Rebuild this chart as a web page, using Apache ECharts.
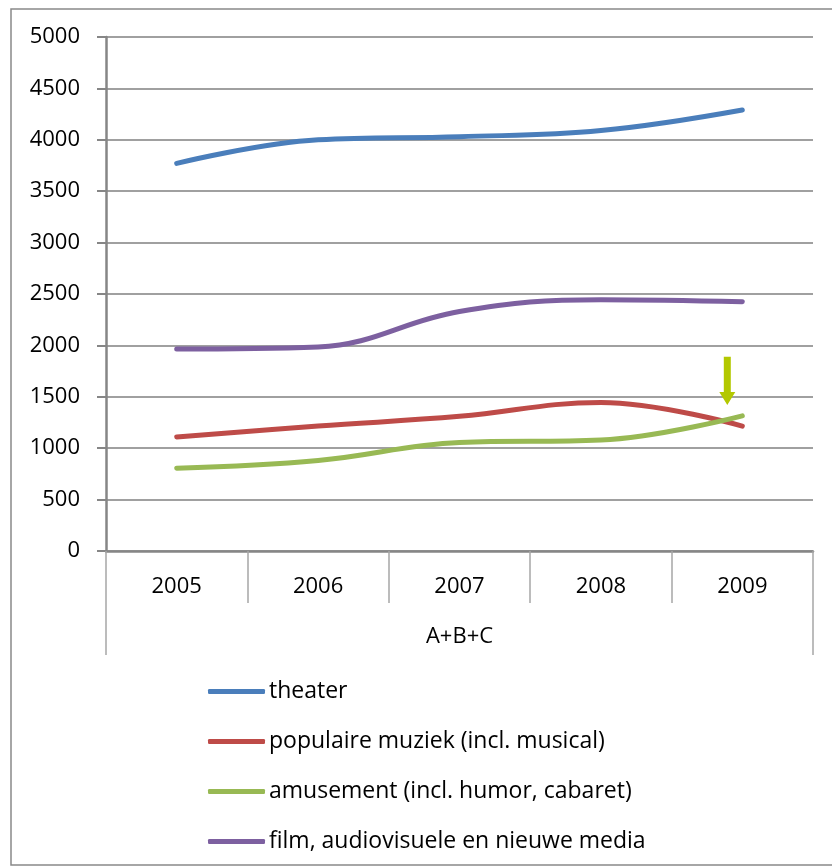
<!DOCTYPE html>
<html>
<head>
<meta charset="utf-8">
<script src="https://cdn.jsdelivr.net/npm/echarts@6/dist/echarts.min.js"></script>
<style>
html,body{margin:0;padding:0;background:#fff;}
#chart{width:832px;height:868px;}
</style>
</head>
<body>
<div id="chart"></div>
<script>
var years = ['2005', '2006', '2007', '2008', '2009'];
var groupLabel = ['A+B+C'];
var seriesNames = ['theater', 'populaire muziek (incl. musical)', 'amusement (incl. humor, cabaret)', 'film, audiovisuele en nieuwe media'];
var theater = [3770, 4000, 4030, 4090, 4290];
var populaire = [1110, 1215, 1310, 1445, 1215];
var amusement = [805, 880, 1055, 1080, 1315];
var film = [1965, 1985, 2330, 2445, 2425];
var seriesColors = ['#4a7ebb', '#be4b48', '#98b954', '#7d60a0'];
// annotation arrow (data coordinates): category index, start value, tip value
var arrowCat = 4;
var arrowFrom = 1890;
var arrowTo = 1420;

var FONT = 'Open Sans';
var chart = echarts.init(document.getElementById('chart'), null, {renderer: 'canvas'});

function mk(name, data, color) {
  return {
    name: name, type: 'line', data: data, smooth: 0.4, symbol: 'none',
    lineStyle: {color: color, width: 5, cap: 'round'},
    itemStyle: {color: color}
  };
}

var option = {
  animation: false,
  textStyle: {fontFamily: FONT},
  grid: {left: 106, right: 19, top: 37, bottom: 317, containLabel: false},
  legend: {
    orient: 'vertical', left: 208, top: 680, padding: 0,
    icon: 'roundRect', itemWidth: 57, itemHeight: 5, itemGap: 27,
    textStyle: {fontFamily: FONT, fontSize: 23, color: '#000', lineHeight: 23, padding: [0, 0, 0, -1]},
    data: seriesNames
  },
  xAxis: [{
    type: 'category', data: years, boundaryGap: true, position: 'bottom',
    axisLine: {show: true, lineStyle: {color: '#868686', width: 2.5}},
    axisTick: {show: true, length: 52, lineStyle: {color: '#a6a6a6', width: 1.5}},
    axisLabel: {fontFamily: FONT, fontSize: 22, color: '#000', margin: 25},
    splitLine: {show: false}
  }, {
    type: 'category', data: groupLabel, boundaryGap: true, position: 'bottom', offset: 52,
    axisLine: {show: false},
    axisTick: {show: true, length: 52, lineStyle: {color: '#a6a6a6', width: 1.5}},
    axisLabel: {fontFamily: FONT, fontSize: 22, color: '#000', margin: 23},
    splitLine: {show: false}
  }],
  yAxis: {
    type: 'value', min: 0, max: 5000, interval: 500,
    axisLine: {show: true, lineStyle: {color: '#868686', width: 2.5}},
    axisTick: {show: true, length: 9, lineStyle: {color: '#868686', width: 2}},
    axisLabel: {fontFamily: FONT, fontSize: 22, color: '#000', margin: 26, formatter: function (v) { return String(v); }},
    splitLine: {show: true, lineStyle: {color: '#a0a0a0', width: 2}}
  },
  series: [
    mk(seriesNames[0], theater, seriesColors[0]),
    mk(seriesNames[1], populaire, seriesColors[1]),
    mk(seriesNames[2], amusement, seriesColors[2]),
    mk(seriesNames[3], film, seriesColors[3])
  ]
};
chart.setOption(option);

function drawExtras() {
  var p0 = chart.convertToPixel({gridIndex: 0}, [arrowCat, arrowFrom]);
  var p1 = chart.convertToPixel({gridIndex: 0}, [arrowCat, arrowTo]);
  var x = p0[0] - 15;
  var yTop = p0[1], yTip = p1[1];
  var headH = 13, shaftW = 3.5, headW = 8;
  var yHead = yTip - headH;
  chart.setOption({
    graphic: [{
      type: 'rect', silent: true, z: -1,
      shape: {x: 11, y: 9, width: 830, height: 856},
      style: {fill: 'none', stroke: '#898989', lineWidth: 1.5}
    }, {
      type: 'polygon', silent: true, z: 10,
      shape: {points: [[x - shaftW, yTop], [x + shaftW, yTop], [x + shaftW, yHead], [x + headW, yHead], [x, yTip], [x - headW, yHead], [x - shaftW, yHead]]},
      style: {fill: '#b3c800'}
    }]
  });
}
drawExtras();
</script>
</body>
</html>
